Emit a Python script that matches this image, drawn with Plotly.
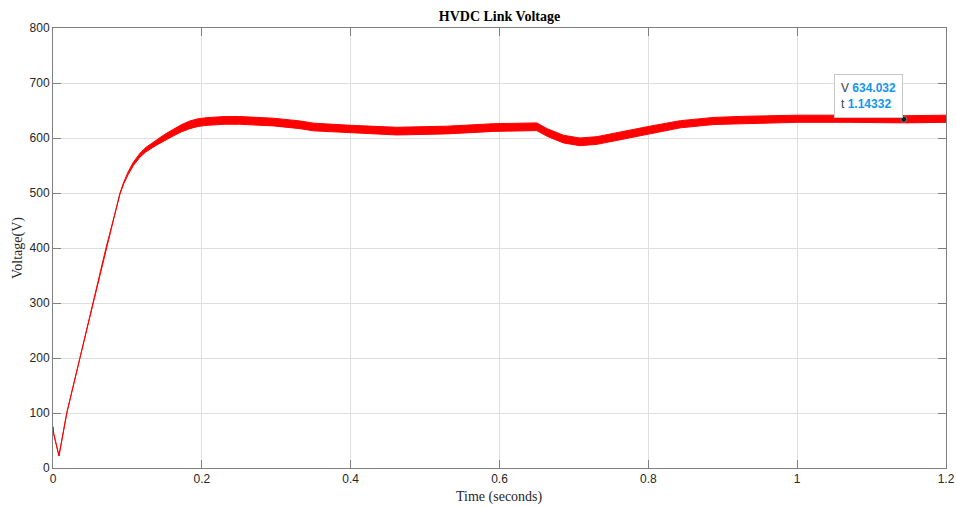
import plotly.graph_objects as go

# ---- data ----
time_s = [0.0, 0.001, 0.008, 0.0185, 0.036, 0.054, 0.071, 0.090, 0.095, 0.101,
          0.108, 0.117, 0.125, 0.139, 0.150, 0.162, 0.173, 0.184, 0.195, 0.207,
          0.230, 0.251, 0.296, 0.332, 0.350, 0.401, 0.462, 0.529, 0.592, 0.650,
          0.664, 0.686, 0.708, 0.731, 0.762, 0.802, 0.843, 0.888, 0.930, 1.000,
          1.070, 1.145, 1.200]
voltage_v = [75, 62, 22, 100, 199, 299, 399, 499, 518, 536,
             553, 569, 579, 592, 601, 610, 618, 624, 628, 630,
             632, 632, 629, 624, 620, 616, 612.5, 614.5, 619, 620.5,
             610, 598, 593, 595.5, 604, 615, 625, 631, 633, 635,
             635, 634, 635]
# peak-to-peak ripple width of the trace (V)
ripple_pp = [0, 0, 0, 0, 0, 0, 0, 2, 3, 5,
             6, 7, 8, 10, 11, 12, 13, 14, 14, 14,
             14, 14, 14, 14, 14, 14, 14, 14, 14, 14,
             14, 14, 14, 14, 14, 13, 13, 13, 13, 13,
             13, 13, 13]

x_ticks = [0, 0.2, 0.4, 0.6, 0.8, 1.0, 1.2]
x_tick_text = ["0", "0.2", "0.4", "0.6", "0.8", "1", "1.2"]
y_ticks = [0, 100, 200, 300, 400, 500, 600, 700, 800]

tip_t = 1.14332
tip_v = 634.032

upper = [v + r / 2 for v, r in zip(voltage_v, ripple_pp)]
lower = [v - r / 2 for v, r in zip(voltage_v, ripple_pp)]

RED = "#ff0000"
AX = "#262626"

fig = go.Figure()
fig.add_trace(go.Scatter(x=time_s, y=lower, mode="lines",
                         line=dict(color=RED, width=1), hoverinfo="skip",
                         showlegend=False))
fig.add_trace(go.Scatter(x=time_s, y=upper, mode="lines", fill="tonexty",
                         fillcolor=RED, line=dict(color=RED, width=1),
                         showlegend=False))
fig.add_trace(go.Scatter(x=[tip_t], y=[tip_v], mode="markers",
                         marker=dict(color="#1a1a1a", size=6,
                                     line=dict(color="#808080", width=1)),
                         showlegend=False))

fig.add_annotation(
    x=tip_t, y=tip_v, xref="x", yref="y", xanchor="right", yanchor="bottom",
    showarrow=False, align="left",
    text=("V <span style='color:#1296ef'><b>%.3f</b></span><br>"
          "t <span style='color:#1296ef'><b>%.5f</b></span>") % (tip_v, tip_t),
    font=dict(family="Liberation Sans", size=12, color="#404040"),
    bgcolor="white", bordercolor="#c8c8c8", borderwidth=1, borderpad=6,
    xshift=-1, yshift=1,
)

# axis titles
fig.add_annotation(x=0.5, y=0, xref="paper", yref="paper", showarrow=False,
                   text="Time (seconds)", xanchor="center", yanchor="middle",
                   yshift=-29,
                   font=dict(family="Liberation Serif", size=14, color=AX))
fig.add_annotation(x=0, y=0.5, xref="paper", yref="paper", showarrow=False,
                   text="Voltage(V)", textangle=-90, xanchor="center",
                   yanchor="middle", xshift=-35,
                   font=dict(family="Liberation Serif", size=14, color=AX))

axis_common = dict(
    showline=True, linecolor="#808080", linewidth=1, mirror="ticks",
    ticks="inside", ticklen=8, tickcolor="#808080", tickwidth=1,
    showgrid=True, gridcolor="#dedede", gridwidth=1, zeroline=False,
    automargin=False,
    tickfont=dict(family="Liberation Sans", size=12, color=AX),
)

fig.update_layout(
    width=957, height=506,
    margin=dict(l=53, r=11, t=28, b=38, autoexpand=False),
    paper_bgcolor="white", plot_bgcolor="white",
    title=dict(text="<b>HVDC Link Voltage</b>", x=499.5 / 957, xanchor="center",
               y=1 - 16 / 506, yanchor="middle", yref="container",
               font=dict(family="Liberation Serif", size=14, color="#000000")),
    xaxis=dict(range=[0, 1.2], tickvals=x_ticks, ticktext=x_tick_text,
               **axis_common),
    yaxis=dict(range=[0, 800], tickvals=y_ticks, **axis_common),
)

fig.write_html(
    "out.html",
    config={"displayModeBar": False},
    post_script="document.body.style.margin='0';document.body.style.overflow='hidden';",
)
